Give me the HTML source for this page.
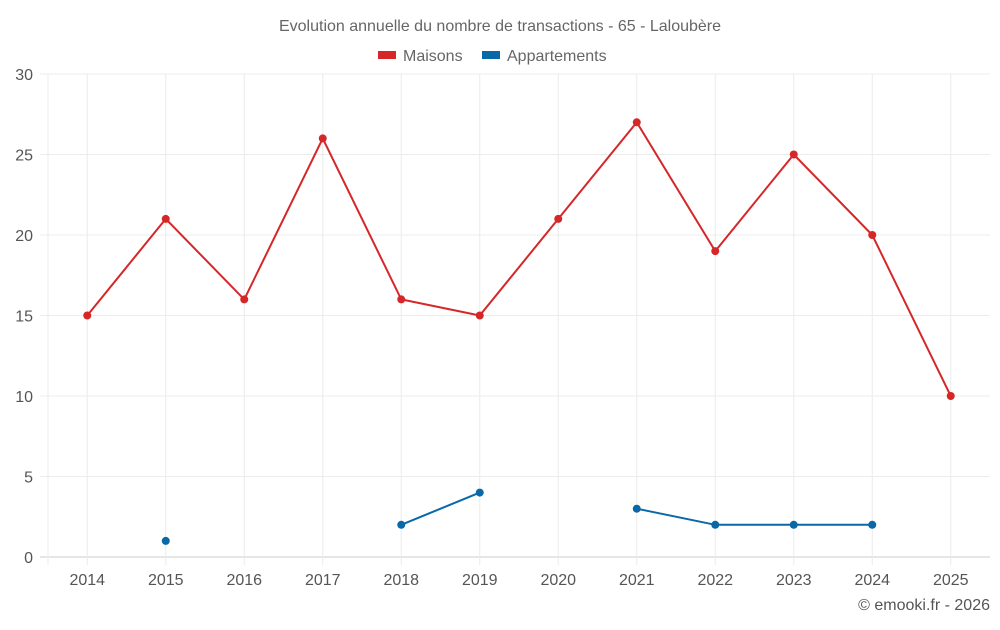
<!DOCTYPE html>
<html><head><meta charset="utf-8"><style>
body{margin:0;background:#fff;font-family:"Liberation Sans",sans-serif;}
svg text{font-family:"Liberation Sans",sans-serif;}
</style></head><body>
<svg id="chart" width="1000" height="625">
<text x="500" y="31" text-anchor="middle" font-size="16" fill="#666">Evolution annuelle du nombre de transactions - 65 - Laloubère</text>
<g>
<g><rect x="378" y="51" width="18" height="8" fill="#d62728"/><text x="403" y="61" font-size="16" fill="#666">Maisons</text></g>
<g><rect x="482" y="51" width="18" height="8" fill="#0868a8"/><text x="507" y="61" font-size="16" fill="#666">Appartements</text></g>
</g>
<g id="grid"></g><g id="axes"></g><g id="series"></g>
<text x="990" y="610" text-anchor="end" font-size="16" fill="#555">© emooki.fr - 2026</text>
</svg>
<script>
const categories=["2014","2015","2016","2017","2018","2019","2020","2021","2022","2023","2024","2025"];
const maisons=[15,21,16,26,16,15,21,27,19,25,20,10];
const appartements=[null,1,null,null,2,4,null,3,2,2,2,null];
const yTicks=[0,5,10,15,20,25,30];
const L=48,R=990,T=74,B=557,yMax=30;
const bw=(R-L)/categories.length;
const x=i=>L+bw*(i+0.5);
const y=v=>B-(v/yMax)*(B-T);
const NS="http://www.w3.org/2000/svg";
function mk(tag,attrs,parent){const e=document.createElementNS(NS,tag);for(const k in attrs)e.setAttribute(k,attrs[k]);parent.appendChild(e);return e;}
const grid=document.getElementById('grid'),axes=document.getElementById('axes'),series=document.getElementById('series');
yTicks.forEach(t=>{
 const l=mk('line',{x1:40,x2:R,y1:y(t),y2:y(t),stroke:t===0?'#ccc':'#ececec','stroke-width':1},grid);
 
 
 const tx=mk('text',{x:33,y:y(t)+6,'text-anchor':'end','font-size':16,fill:'#555'},axes);
 tx.textContent=t;
 
 
});
const lv=mk('line',{x1:L,x2:L,y1:T,y2:B+8,stroke:'#ececec','stroke-width':1},grid);


categories.forEach((c,i)=>{
 const l=mk('line',{x1:x(i),x2:x(i),y1:T,y2:B+8,stroke:'#ececec','stroke-width':1},grid);
 
 
});
categories.forEach((c,i)=>{
 const tx=mk('text',{x:x(i),y:585,'text-anchor':'middle','font-size':16,fill:'#555'},axes);
 tx.textContent=c;
 
 
});
function draw(data,color,name){
 let segs=[],cur=[];
 data.forEach((v,i)=>{if(v==null){if(cur.length)segs.push(cur);cur=[];}else cur.push([x(i),y(v)]);});
 if(cur.length)segs.push(cur);
 segs.forEach(s=>{if(s.length>1){
  const p=mk('polyline',{points:s.map(q=>q.join(',')).join(' '),fill:'none',stroke:color,'stroke-width':2},series);
  
  
 }});
 data.forEach((v,i)=>{if(v!=null){
  const c=mk('circle',{cx:x(i),cy:y(v),r:4,fill:color},series);
  
  
 }});
}
draw(maisons,'#d62728','maisons');
draw(appartements,'#0868a8','appartements');
</script>
</body></html>
